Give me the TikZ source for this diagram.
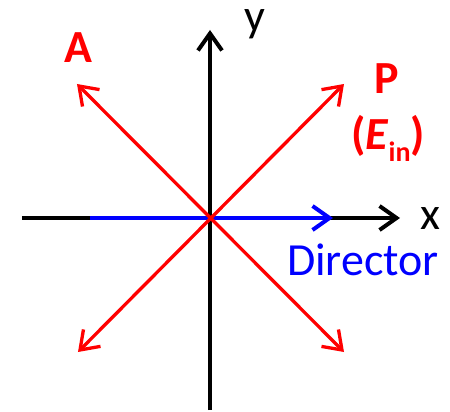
\documentclass[tikz,border=0pt]{standalone}
\usepackage{fontspec}
\setmainfont{Carlito}
\usetikzlibrary{arrows.meta}

\begin{document}
\begin{tikzpicture}[x=1pt,y=1pt,
  barb/.tip={Straight Barb[length=17pt,width=24pt]},
  axis/.style={line width=4pt,-barb},
  pol/.style={red,line width=3.3pt,barb-barb},
  dirline/.style={blue,line width=4pt,-barb},
  lbl/.style={font=\fontsize{46}{50}\selectfont,inner sep=0pt,anchor=base}]
\useasboundingbox (-210,-194) rectangle (240,218);
\coordinate (O) at (0,0);
\coordinate (xl) at (-188,0); \coordinate (xr) at (190,0);
\coordinate (yb) at (0,-192); \coordinate (yt) at (0,188);
\coordinate (nl) at (-120,0); \coordinate (nr) at (123,0);
\coordinate (ur) at (134,134); \coordinate (ul) at (-133,134);
\coordinate (ll) at (-132,-134); \coordinate (lr) at (134,-134);
% axes
\draw[axis] (xl)--(xr);
\draw[axis] (yb)--(yt);
\draw[dirline] (nl)--(nr);
% polarizer and analyzer
\foreach \p/\q in {ll/ur,lr/ul}
  \draw[pol] (\p)--(\q);
\node[lbl] (xlab) at (220,-12) {x};
\node[lbl] (ylab) at (45,186) {y};
\node[lbl,blue] (dir) at (153,-58) {Director};
\node[lbl,red,font=\fontsize{46}{50}\selectfont\bfseries] (A) at (-132,155) {A};
\node[lbl,red,font=\fontsize{46}{50}\selectfont\bfseries] (P) at (177,124) {P};
\node[lbl,red,font=\fontsize{46}{50}\selectfont\bfseries] (Ein) at (178,68)
  {(\textit{E}\raisebox{-0.25em}{\fontsize{28}{30}\selectfont in})};
\end{tikzpicture}
\end{document}
